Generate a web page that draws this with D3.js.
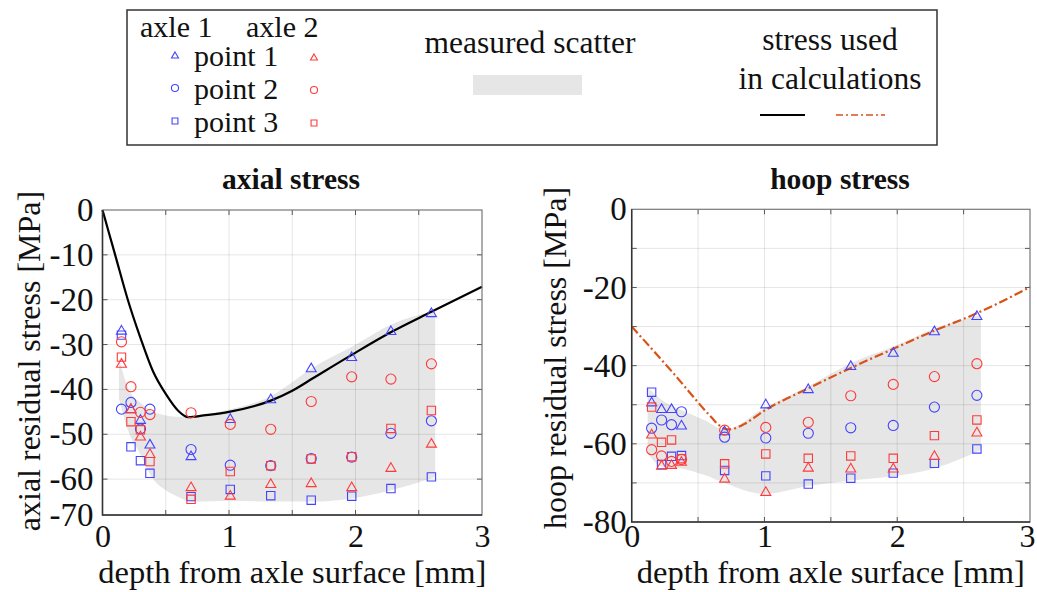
<!DOCTYPE html>
<html>
<head>
<meta charset="utf-8">
<title>residual stress</title>
<script src="https://d3js.org/d3.v7.min.js"></script>
<style>
  body { margin: 0; background: #fff; }
  svg text { font-family: "Liberation Serif", "Times New Roman", serif !important; fill: #111; }
</style>
</head>
<body>
<svg id="chart" width="1037" height="592"></svg>
<script>
// measuring depths [mm]
var depths = [0.15, 0.225, 0.30, 0.375, 0.70, 1.01, 1.33, 1.65, 1.97, 2.28, 2.60];

// axial stress, measured [MPa]
var axialAxle1P1 = [-26.8, -44.3, -46.7, -52.2, -54.8, -46.5, -42.1, -35.2, -32.7, -26.9, -22.9];
var axialAxle1P2 = [-44.4, -42.9, -48.8, -44.4, -53.4, -56.9, -57.0, -55.4, -55.1, -49.8, -47.0];
var axialAxle1P3 = [-27.9, -52.8, -55.9, -58.7, -63.9, -62.3, -63.7, -64.7, -63.8, -62.1, -59.5];
var axialAxle2P1 = [-34.2, -44.3, -50.4, -54.3, -61.7, -63.6, -61.0, -60.8, -61.7, -57.4, -52.0];
var axialAxle2P2 = [-29.4, -39.4, -45.1, -45.6, -45.2, -47.8, -48.9, -42.7, -37.2, -37.7, -34.3];
var axialAxle2P3 = [-32.8, -47.2, -49.0, -56.1, -64.5, -58.3, -57.0, -55.5, -55.0, -48.7, -44.7];

// hoop stress, measured [MPa]
var hoopAxle1P1 = [-49.3, -51.0, -51.0, -55.2, -56.7, -49.8, -45.9, -40.0, -36.6, -31.1, -27.2];
var hoopAxle1P2 = [-56.0, -53.9, -55.1, -51.8, -58.3, -58.5, -57.3, -55.9, -55.3, -50.6, -47.6];
var hoopAxle1P3 = [-46.8, -65.3, -63.2, -63.0, -66.8, -68.2, -70.3, -68.8, -67.5, -65.0, -61.3];
var hoopAxle2P1 = [-57.5, -65.5, -65.3, -64.5, -68.8, -72.2, -66.0, -66.2, -66.2, -63.0, -57.0];
var hoopAxle2P2 = [-61.5, -63.1, -64.5, -64.0, -56.5, -55.8, -54.5, -47.7, -44.8, -42.8, -39.5];
var hoopAxle2P3 = [-50.6, -59.6, -59.0, -63.8, -65.1, -62.6, -63.7, -63.1, -63.7, -57.9, -53.9];

// stress used in calculations
var axialCalcDepth  = [0, 0.05, 0.1, 0.2, 0.3, 0.4, 0.5, 0.6, 0.68, 0.8, 1.0, 1.33, 1.5, 1.67, 1.97, 2.29, 2.6, 3.0];
var axialCalcStress = [0, -5, -10, -20, -28.5, -36, -41, -44.8, -46.2, -45.8, -45, -42.5, -40.3, -37.4, -32.3, -27.1, -22.7, -17.1];
var hoopCalcDepth   = [0, 0.3, 0.6, 0.66, 0.72, 0.78, 0.85, 1.0, 1.33, 1.65, 1.97, 2.29, 2.6, 3.0];
var hoopCalcStress  = [-30, -41.4, -53.2, -55.3, -56.3, -56.0, -54.9, -51.5, -45.8, -40.6, -35.7, -30.9, -26.6, -19.9];

// measured scatter band
var axialBandDepth  = [0.13, 0.2, 0.3, 0.4, 0.5, 0.6, 0.7, 1.0, 1.33, 1.67, 1.97, 2.29, 2.63];
var axialBandTop    = [-33, -39.5, -43, -45, -45.8, -46.1, -46, -44.5, -41.5, -35, -30.5, -25.4, -22.5];
var axialBandBottom = [-42, -49, -54.5, -60, -62.5, -64, -65, -64.8, -65, -65, -64.3, -62.4, -59.5];
var hoopBandDepth   = [0.12, 0.225, 0.37, 0.55, 0.7, 1.0, 1.33, 1.65, 1.97, 2.29, 2.63];
var hoopBandTop     = [-45.5, -48.7, -51.3, -54, -56.4, -50.8, -45.3, -39.4, -35.1, -30.4, -27];
var hoopBandBottom  = [-62.4, -65.8, -66.3, -68, -70, -72.8, -70.8, -69.4, -68.3, -66.2, -61.5];

// ticks
var xTicks = [0, 1, 2, 3];
var xGrid = [0.5, 1, 1.5, 2, 2.5];
var axialYTicks = [0, -10, -20, -30, -40, -50, -60, -70];
var hoopYTicks = [0, -20, -40, -60, -80];
var hoopYGrid = [-10, -20, -30, -40, -50, -60, -70];

var blue = "#4444ff", red = "#ff3a3a", orange = "#d95319";
var serif = "'Liberation Serif', 'Times New Roman', serif";

var svg = d3.select("#chart");

function marker(g, shape, x, y, size, color) {
  var types = { tri: d3.symbolTriangle, circ: d3.symbolCircle, sq: d3.symbolSquare };
  var areas = { tri: 0.43, circ: 0.8, sq: 0.7 };
  g.append("path")
    .attr("d", d3.symbol().type(types[shape]).size(areas[shape] * size * size)())
    .attr("transform", "translate(" + x + "," + (shape == "tri" ? y + 1 : y) + ")")
    .attr("fill", "none")
    .attr("stroke", color)
    .attr("stroke-width", 1.1);
}

function label(g, x, y, size, txt) {
  return g.append("text").attr("x", x).attr("y", y)
    .style("font-family", serif).style("font-size", size + "px").text(txt);
}

function drawPlot(cfg) {
  var x = d3.scaleLinear().domain([0, 3]).range(cfg.xRange);
  var y = d3.scaleLinear().domain(cfg.yDomain).range(cfg.yRange).clamp(true);
  var g = svg.append("g");

  // band
  var band = cfg.bandDepth.map(function (d, i) { return [d, cfg.bandTop[i], cfg.bandBottom[i]]; });
  g.append("path")
    .datum(band)
    .attr("fill", "#e6e6e6")
    .attr("d", d3.area()
      .x(function (d) { return x(d[0]); })
      .y0(function (d) { return y(d[2]); })
      .y1(function (d) { return y(d[1]); })
      .curve(d3.curveMonotoneX));

  // grid
  g.selectAll(".gx").data(xGrid).enter().append("line")
    .attr("x1", function (d) { return x(d); }).attr("x2", function (d) { return x(d); })
    .attr("y1", cfg.yRange[1]).attr("y2", cfg.yRange[0])
    .attr("stroke", "#000").attr("stroke-opacity", 0.1);
  g.selectAll(".gy").data(cfg.yGrid).enter().append("line")
    .attr("x1", cfg.xRange[0]).attr("x2", cfg.xRange[1])
    .attr("y1", function (d) { return y(d); }).attr("y2", function (d) { return y(d); })
    .attr("stroke", "#000").attr("stroke-opacity", 0.1);

  // inner tick marks on all four sides
  var tg = g.append("g").attr("stroke", "#555");
  xGrid.forEach(function (d) {
    tg.append("line").attr("x1", x(d)).attr("x2", x(d)).attr("y1", cfg.yRange[0]).attr("y2", cfg.yRange[0] - 5);
    tg.append("line").attr("x1", x(d)).attr("x2", x(d)).attr("y1", cfg.yRange[1]).attr("y2", cfg.yRange[1] + 5);
  });
  cfg.yGrid.forEach(function (d) {
    tg.append("line").attr("x1", cfg.xRange[0]).attr("x2", cfg.xRange[0] + 5).attr("y1", y(d)).attr("y2", y(d));
    tg.append("line").attr("x1", cfg.xRange[1]).attr("x2", cfg.xRange[1] - 5).attr("y1", y(d)).attr("y2", y(d));
  });

  // calculation line
  var calc = cfg.calcDepth.map(function (d, i) { return [d, cfg.calcStress[i]]; });
  g.append("path")
    .datum(calc)
    .attr("fill", "none")
    .attr("stroke", cfg.lineColor)
    .attr("stroke-width", 2.2)
    .attr("stroke-dasharray", cfg.dash)
    .attr("d", d3.line()
      .x(function (d) { return x(d[0]); })
      .y(function (d) { return y(d[1]); })
      .curve(d3.curveMonotoneX));

  // measured points
  cfg.series.forEach(function (s) {
    depths.forEach(function (d, i) {
      marker(g, s.shape, x(d), y(s.values[i]), 10, s.color);
    });
  });

  // frame
  g.append("rect")
    .attr("x", cfg.xRange[0]).attr("y", cfg.yRange[1])
    .attr("width", cfg.xRange[1] - cfg.xRange[0])
    .attr("height", cfg.yRange[0] - cfg.yRange[1])
    .attr("fill", "none").attr("stroke", "#777").attr("stroke-width", 1.2);
  g.append("path")
    .attr("d", "M" + cfg.xRange[0] + "," + cfg.yRange[1] + "V" + cfg.yRange[0] + "H" + cfg.xRange[1])
    .attr("fill", "none").attr("stroke", "#333").attr("stroke-width", 1.5);

  // axes labels via d3 axes
  var ax = g.append("g")
    .attr("transform", "translate(0," + cfg.yRange[0] + ")")
    .call(d3.axisBottom(x).tickValues(xTicks).tickSize(0).tickPadding(cfg.xPad).tickFormat(d3.format("d")));
  ax.select(".domain").remove();
  ax.attr("font-family", null).attr("font-size", null);
  ax.selectAll("text").style("font-family", serif).style("font-size", "32px").attr("fill", "#111")
    .attr("dx", function (d) { return d == 3 ? cfg.lastDx : 0; });

  var ay = g.append("g")
    .attr("transform", "translate(" + cfg.xRange[0] + ",0)")
    .call(d3.axisLeft(y).tickValues(cfg.yTicks).tickSize(0).tickPadding(cfg.yPad).tickFormat(function (d) { return d == 0 ? "0" : "-" + Math.abs(d); }));
  ay.select(".domain").remove();
  ay.attr("font-family", null).attr("font-size", null);
  ay.selectAll("text").style("font-family", serif).style("font-size", "33px").attr("fill", "#111");

  var cx = (cfg.xRange[0] + cfg.xRange[1]) / 2;
  label(g, cx, 583, 32.5, "depth from axle surface [mm]").attr("text-anchor", "middle");
  label(g, cfg.titleX, 189, 29.5, cfg.title).attr("text-anchor", "middle").style("font-weight", "bold");
  label(g, 0, 0, 32, cfg.yLabel)
    .attr("transform", "translate(" + cfg.yLabelX + "," + cfg.yLabelY + ") rotate(-90)")
    .attr("text-anchor", "middle");
}

drawPlot({
  title: "axial stress", titleX: 291,
  yLabel: "axial residual stress [MPa]", yLabelX: 40, yLabelY: 361,
  xRange: [102.5, 482], yDomain: [-68, 0], yRange: [515, 210],
  yTicks: axialYTicks, yGrid: [-10, -20, -30, -40, -50, -60], yPad: 9, xPad: 9, lastDx: 0,
  bandDepth: axialBandDepth, bandTop: axialBandTop, bandBottom: axialBandBottom,
  calcDepth: axialCalcDepth, calcStress: axialCalcStress, lineColor: "#000", dash: null,
  series: [
    { shape: "tri", color: blue, values: axialAxle1P1 },
    { shape: "circ", color: blue, values: axialAxle1P2 },
    { shape: "sq", color: blue, values: axialAxle1P3 },
    { shape: "tri", color: red, values: axialAxle2P1 },
    { shape: "circ", color: red, values: axialAxle2P2 },
    { shape: "sq", color: red, values: axialAxle2P3 }
  ]
});

drawPlot({
  title: "hoop stress", titleX: 840,
  yLabel: "hoop residual stress [MPa]", yLabelX: 566, yLabelY: 358,
  xRange: [631.7, 1030], yDomain: [-80, 0], yRange: [522, 209.3],
  yTicks: hoopYTicks, yGrid: hoopYGrid, yPad: 5, xPad: 2, lastDx: -3,
  bandDepth: hoopBandDepth, bandTop: hoopBandTop, bandBottom: hoopBandBottom,
  calcDepth: hoopCalcDepth, calcStress: hoopCalcStress, lineColor: orange, dash: "9,3,2,3",
  series: [
    { shape: "tri", color: blue, values: hoopAxle1P1 },
    { shape: "circ", color: blue, values: hoopAxle1P2 },
    { shape: "sq", color: blue, values: hoopAxle1P3 },
    { shape: "tri", color: red, values: hoopAxle2P1 },
    { shape: "circ", color: red, values: hoopAxle2P2 },
    { shape: "sq", color: red, values: hoopAxle2P3 }
  ]
});

// legend
var lg = svg.append("g");
lg.append("rect").attr("x", 127).attr("y", 10).attr("width", 810).attr("height", 135)
  .attr("fill", "#fff").attr("stroke", "#333").attr("stroke-width", 1.5);
label(lg, 140, 37, 30, "axle 1");
label(lg, 246, 37, 30, "axle 2");
var legendRows = ["point 1", "point 2", "point 3"];
var legendShapes = ["tri", "circ", "sq"];
legendRows.forEach(function (t, i) {
  var yy = 55 + i * 33;
  label(lg, 194, yy + 11, 30, t);
  marker(lg, legendShapes[i], 175, yy, 7, blue);
  marker(lg, legendShapes[i], 314, yy + 2, 7, red);
});
label(lg, 530, 53, 31.5, "measured scatter").attr("text-anchor", "middle");
lg.append("rect").attr("x", 473).attr("y", 75).attr("width", 109).attr("height", 20).attr("fill", "#e6e6e6");
label(lg, 830, 50, 31.5, "stress used").attr("text-anchor", "middle");
label(lg, 830, 89, 31.5, "in calculations").attr("text-anchor", "middle");
lg.append("line").attr("x1", 760).attr("x2", 805).attr("y1", 115).attr("y2", 115).attr("stroke", "#000").attr("stroke-width", 2);
lg.append("line").attr("x1", 836).attr("x2", 885).attr("y1", 115).attr("y2", 115)
  .attr("stroke", orange).attr("stroke-width", 1.6).attr("stroke-dasharray", "7,3,2,3");
</script>
</body>
</html>
